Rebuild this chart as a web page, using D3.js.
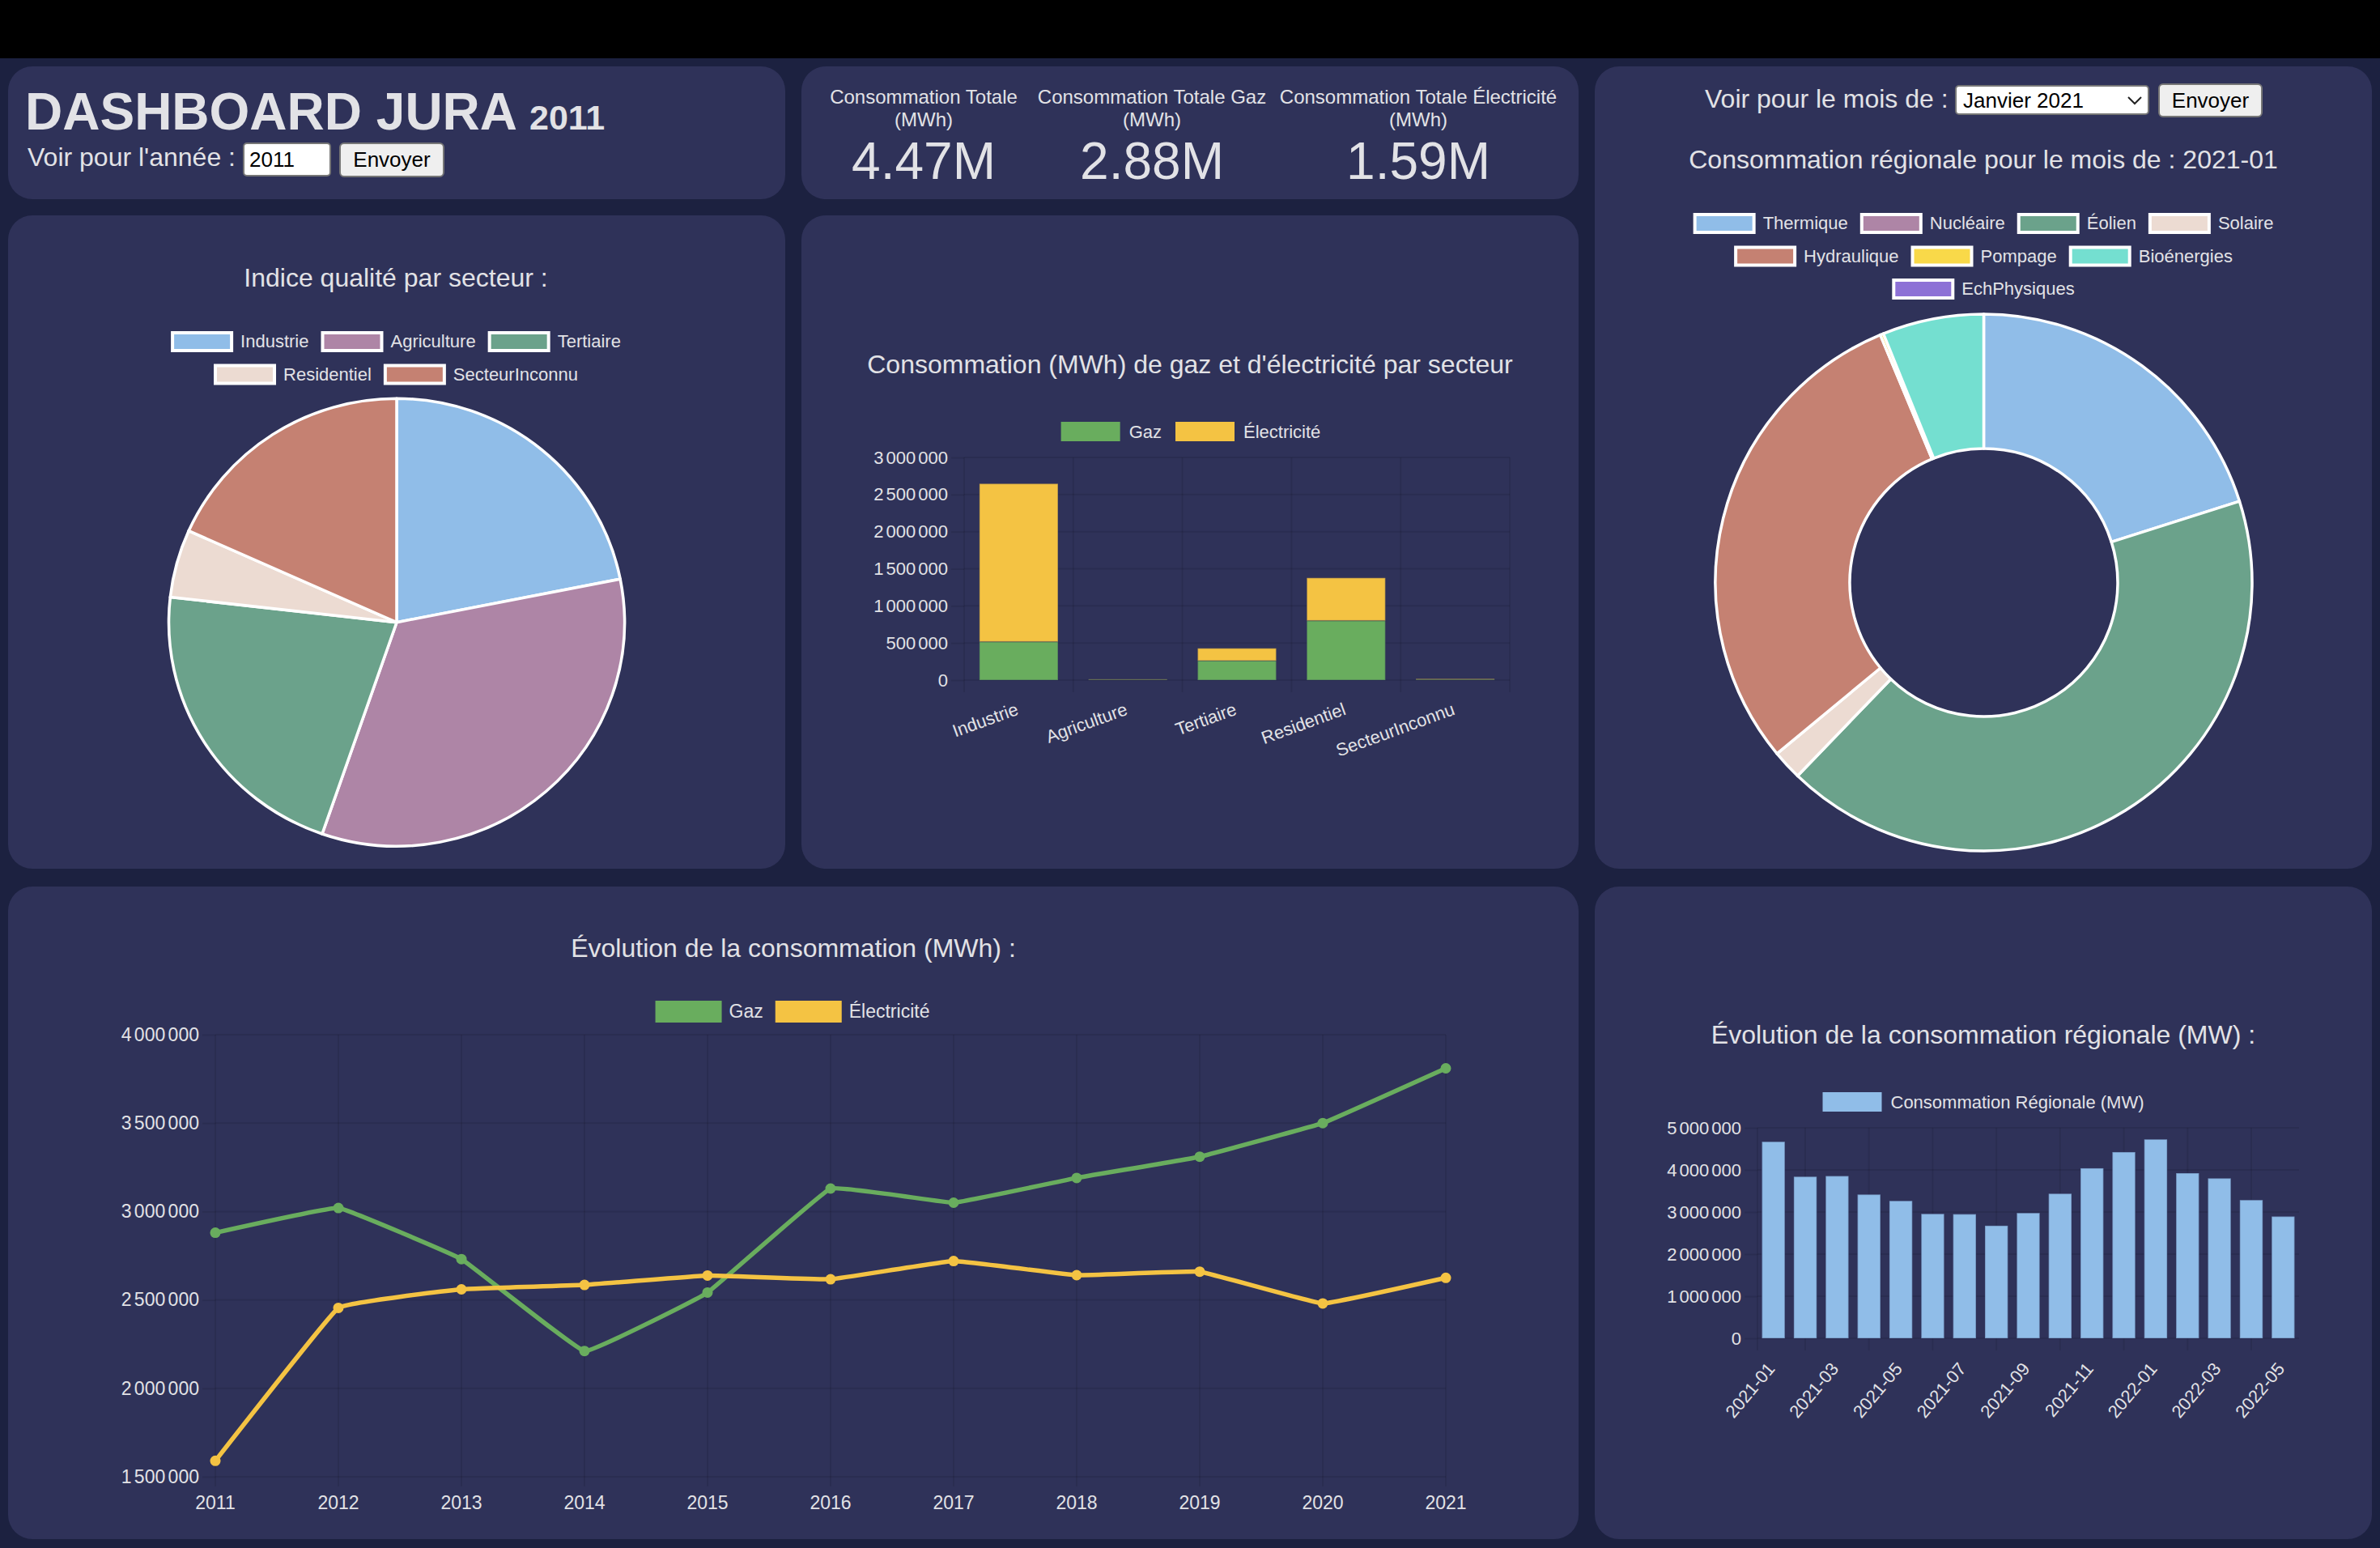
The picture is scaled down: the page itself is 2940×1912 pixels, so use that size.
<!DOCTYPE html>
<html lang="fr">
<head>
<meta charset="utf-8">
<title>Dashboard Jura</title>
<script src="https://cdn.jsdelivr.net/npm/d3@7"></script>
<style>
  html, body { margin: 0; padding: 0; background: #1c2140; }
  body { position: relative; width: 2940px; height: 1912px; overflow: hidden; font-family: "Liberation Sans", Arial, sans-serif; }
  svg { position: absolute; left: 0; top: 0; }
  svg text { font-family: "Liberation Sans", Arial, sans-serif; fill: #e2e2e6; }
  .ctl { position: absolute; box-sizing: border-box; margin: 0; font-family: "Liberation Sans", Arial, sans-serif; font-size: 26px; color: #000; border: 2px solid #767676; }
  button.ctl { background: #efefef; border-radius: 6px; padding: 0; }
  input.ctl { background: #fff; border-radius: 5px; padding: 0 6px; }
  select.ctl { background: #fff; border-radius: 5px; padding: 0 8px; appearance: none; -webkit-appearance: none;
    background-image: url("data:image/svg+xml,%3Csvg xmlns='http://www.w3.org/2000/svg' width='20' height='12'%3E%3Cpath d='M2 2l8 8 8-8' fill='none' stroke='%23222' stroke-width='2'/%3E%3C/svg%3E");
    background-repeat: no-repeat; background-position: right 6px center; }
</style>
</head>
<body>
<script>
// values
const kpiLabels = [["Consommation Totale", "(MWh)"], ["Consommation Totale Gaz", "(MWh)"], ["Consommation Totale Électricité", "(MWh)"]];
const kpiValues = ["4.47M", "2.88M", "1.59M"];

const sectors = ["Industrie", "Agriculture", "Tertiaire", "Residentiel", "SecteurInconnu"];
const qualityIndex = [21.9, 33.4, 21.5, 4.9, 18.3];
const sectorGaz = [517000, 8000, 261000, 801000, 9000];
const sectorElec = [2129000, 4000, 167000, 576000, 7000];

const energySources = ["Thermique", "Nucléaire", "Éolien", "Solaire", "Hydraulique", "Pompage", "Bioénergies", "EchPhysiques"];
const energyValues = [20.1, 0, 42.1, 1.8, 29.7, 0.2, 6.1, 0];

const years = ["2011", "2012", "2013", "2014", "2015", "2016", "2017", "2018", "2019", "2020", "2021"];
const gazByYear = [2880000, 3020000, 2731000, 2211000, 2542000, 3130000, 3050000, 3190000, 3310000, 3500000, 3810000];
const elecByYear = [1590000, 2455000, 2560000, 2585000, 2638000, 2617000, 2720000, 2640000, 2660000, 2480000, 2625000];

const months = ["2021-01", "2021-02", "2021-03", "2021-04", "2021-05", "2021-06", "2021-07", "2021-08", "2021-09", "2021-10", "2021-11", "2021-12", "2022-01", "2022-02", "2022-03", "2022-04", "2022-05"];
const regionalByMonth = [4670000, 3840000, 3855000, 3416000, 3265000, 2956000, 2949000, 2675000, 2977000, 3436000, 4040000, 4424000, 4726000, 3923000, 3800000, 3285000, 2894000];

const GREEN = "#69ad5e";
const YELLOW = "#f4c343";
const pieColors = ["#90bde8", "#ae85a6", "#6ba28b", "#ecdbd2", "#c58172", "#f9d949", "#74dfd0", "#8d71d6"];
const gridColor = "rgba(0,0,0,0.09)";
const barEdge = "rgba(47,50,89,0.3)";

// grouped with a plain space, tightened with word-spacing on the tick text
const fr = d3.formatLocale({ decimal: ",", thousands: " ", grouping: [3], currency: ["", " €"] });
const fmt = fr.format(",d");

const svg = d3.select("body").append("svg").attr("width", 2940).attr("height", 1912);

// top strip and cards
svg.append("rect").attr("width", 2940).attr("height", 72).attr("fill", "#000");
const cards = [
  [10, 82, 960, 164], [990, 82, 960, 164], [1970, 82, 960, 991],
  [10, 266, 960, 807], [990, 266, 960, 807],
  [10, 1095, 1940, 806], [1970, 1095, 960, 806]
];
svg.selectAll("rect.card").data(cards).enter().append("rect")
  .attr("class", "card")
  .attr("x", d => d[0]).attr("y", d => d[1])
  .attr("width", d => d[2]).attr("height", d => d[3])
  .attr("rx", 30).attr("fill", "#2f3259");

function label(x, y, txt, size, anchor, weight) {
  return svg.append("text").attr("x", x).attr("y", y)
    .attr("font-size", size + "px")
    .attr("text-anchor", anchor || "start")
    .attr("font-weight", weight || "normal")
    .text(txt);
}

// header
const head = label(31, 160, "DASHBOARD JURA", 64, "start", "bold");
head.append("tspan").attr("font-size", "43px").attr("dx", "3").text(" 2011");
label(34, 205, "Voir pour l'année :", 32);

// kpis
[1141, 1423, 1752].forEach((cx, i) => {
  label(cx, 128, kpiLabels[i][0], 24, "middle");
  label(cx, 156, kpiLabels[i][1], 24, "middle");
  label(cx, 221, kpiValues[i], 64, "middle");
});

// form controls
function control(tag, x, y, w, h) {
  return d3.select("body").append(tag).attr("class", "ctl")
    .style("left", x + "px").style("top", y + "px")
    .style("width", w + "px").style("height", h + "px");
}
control("input", 300, 176, 109, 42).attr("type", "text").attr("value", "2011");
control("button", 419, 176, 130, 43).text("Envoyer");
label(2106, 133, "Voir pour le mois de :", 32);
control("select", 2415, 105, 240, 37).append("option").text("Janvier 2021");
control("button", 2666, 103, 129, 42).text("Envoyer");

// legend: rows of [name, colour], each row centred on cx
function legend(cx, y, rows, style) {
  const { boxW, boxH, offset, gap, outlined, textY, size } = style;
  rows.forEach((row, r) => {
    const g = svg.append("g").attr("transform", `translate(0,${y + r * 40.5})`);
    const items = row.map(d => {
      const it = g.append("g");
      it.append("rect").attr("x", outlined ? 2 : 0).attr("y", outlined ? 2 : 0)
        .attr("width", outlined ? boxW - 4 : boxW).attr("height", outlined ? boxH - 4 : boxH)
        .attr("fill", d[1])
        .attr("stroke", outlined ? "#fff" : "none").attr("stroke-width", 4);
      const t = it.append("text").attr("x", offset).attr("y", textY).attr("font-size", size + "px").text(d[0]);
      return { it, w: offset + t.node().getComputedTextLength() };
    });
    let x = cx - (d3.sum(items, d => d.w) + gap * (items.length - 1)) / 2;
    items.forEach(d => {
      d.it.attr("transform", `translate(${x},0)`);
      x += d.w + gap;
    });
  });
}
const outlinedLegend = { boxW: 77, boxH: 26, offset: 86, gap: 15, outlined: true, textY: 20, size: 22 };
const barLegend = { boxW: 73, boxH: 24, offset: 84, gap: 17, outlined: false, textY: 20, size: 22 };
const lineLegend = { boxW: 82, boxH: 27, offset: 91, gap: 15, outlined: false, textY: 21, size: 23 };

// horizontal grid + y labels
function yAxis(x0, x1, y, ticks, size) {
  const g = svg.append("g");
  g.append("g").attr("transform", `translate(${x0},0)`)
    .call(d3.axisLeft(y).tickValues(ticks).tickFormat(fmt).tickSize(16).tickPadding(4))
    .call(a => a.select(".domain").remove())
    .call(a => a.selectAll("line").attr("stroke", gridColor).attr("stroke-width", 2))
    .call(a => a.selectAll("text").attr("font-size", size + "px").attr("font-family", null).attr("word-spacing", "-3px"));
  g.selectAll("line.grid").data(ticks).enter().append("line")
    .attr("class", "grid")
    .attr("x1", x0).attr("x2", x1)
    .attr("y1", d => y(d)).attr("y2", d => y(d))
    .attr("stroke", gridColor).attr("stroke-width", 2);
}

function vGrid(xs, top, bottom) {
  svg.append("g").selectAll("line").data(xs).enter().append("line")
    .attr("x1", d => d).attr("x2", d => d)
    .attr("y1", top).attr("y2", bottom)
    .attr("stroke", gridColor).attr("stroke-width", 2);
}

// ---- pie: indice qualite
label(489, 354, "Indice qualité par secteur :", 32, "middle");
legend(489, 409, [
  sectors.slice(0, 3).map((s, i) => [s, pieColors[i]]),
  sectors.slice(3).map((s, i) => [s, pieColors[i + 3]])
], outlinedLegend);

function drawPie(cx, cy, r, inner, values, xStretch) {
  const arc = d3.arc().innerRadius(inner).outerRadius(r);
  const pie = d3.pie().sort(null)(values);
  svg.append("g").attr("transform", `translate(${cx},${cy}) scale(${xStretch},1)`)
    .selectAll("path").data(pie).enter().append("path")
    .attr("d", arc)
    .attr("fill", (d, i) => pieColors[i])
    .attr("stroke", d => d.value > 0 ? "#fff" : "none")
    .attr("stroke-width", 3.5)
    .attr("stroke-linejoin", "round");
}
// the pie is slightly wider than tall in the reference
drawPie(490, 768.7, 276.5, 0, qualityIndex, 1.018);

// ---- stacked bars by sector
label(1470, 461, "Consommation (MWh) de gaz et d'électricité par secteur", 32, "middle");
legend(1471, 521, [[["Gaz", GREEN], ["Électricité", YELLOW]]], barLegend);

const secX = d3.scaleBand().domain(sectors).range([1191, 1865]).paddingInner(0.28).paddingOuter(0.14);
const secY = d3.scaleLinear().domain([0, 3000000]).range([840, 565]);
vGrid(sectors.map((d, i) => 1191 + i * secX.step()).concat([1865]), 565, 855);
yAxis(1191, 1865, secY, [0, 500000, 1000000, 1500000, 2000000, 2500000, 3000000], 22);

const secRows = sectors.map((s, i) => ({ s, gaz: sectorGaz[i], elec: sectorElec[i] }));
const stacked = d3.stack().keys(["gaz", "elec"])(secRows);
svg.append("g").selectAll("g").data(stacked).enter().append("g")
  .attr("fill", (d, i) => i === 0 ? GREEN : YELLOW)
  .selectAll("rect").data(d => d).enter().append("rect")
  .attr("x", d => secX(d.data.s))
  .attr("y", d => secY(d[1]))
  .attr("width", secX.bandwidth())
  .attr("height", d => secY(d[0]) - secY(d[1]))
  .attr("stroke", barEdge).attr("stroke-width", 1.5);

function rotatedLabels(x, names, y, angle, dx) {
  svg.append("g").selectAll("text").data(names).enter().append("text")
    .attr("transform", d => `translate(${x(d) + x.bandwidth() / 2 + dx},${y}) rotate(${angle})`)
    .attr("text-anchor", "end")
    .attr("font-size", "22px")
    .text(d => d);
}
rotatedLabels(secX, sectors, 882, -20, 1);

// ---- doughnut
label(2450, 208, "Consommation régionale pour le mois de : 2021-01", 32, "middle");
legend(2450, 263, [
  energySources.slice(0, 4).map((s, i) => [s, pieColors[i]]),
  energySources.slice(4, 7).map((s, i) => [s, pieColors[i + 4]]),
  energySources.slice(7).map((s, i) => [s, pieColors[i + 7]])
], outlinedLegend);
drawPie(2450.5, 719.5, 331.5, 165.5, energyValues, 1);

// ---- line chart
label(980, 1182, "Évolution de la consommation (MWh) :", 32, "middle");
legend(979, 1236, [[["Gaz", GREEN], ["Électricité", YELLOW]]], lineLegend);

const yearX = d3.scalePoint().domain(years).range([266, 1786]);
const yearY = d3.scaleLinear().domain([1500000, 4000000]).range([1824, 1278]);
vGrid(years.map(d => yearX(d)), 1278, 1836);
yAxis(266, 1786, yearY, [1500000, 2000000, 2500000, 3000000, 3500000, 4000000], 23);

svg.append("g").selectAll("text").data(years).enter().append("text")
  .attr("x", d => yearX(d)).attr("y", 1864)
  .attr("text-anchor", "middle").attr("font-size", "23px")
  .text(d => d);

const line = d3.line()
  .x((d, i) => yearX(years[i]))
  .y(d => yearY(d))
  .curve(d3.curveCardinal.tension(0.8));
[[gazByYear, GREEN], [elecByYear, YELLOW]].forEach(([vals, col]) => {
  svg.append("path").attr("d", line(vals))
    .attr("fill", "none").attr("stroke", col).attr("stroke-width", 5.5);
  svg.append("g").selectAll("circle").data(vals).enter().append("circle")
    .attr("cx", (d, i) => yearX(years[i]))
    .attr("cy", d => yearY(d))
    .attr("r", 6.5).attr("fill", col);
});

// ---- regional bars
label(2450, 1289, "Évolution de la consommation régionale (MW) :", 32, "middle");
legend(2450, 1349, [[["Consommation Régionale (MW)", pieColors[0]]]], barLegend);

const monthX = d3.scaleBand().domain(months).range([2171, 2840]).paddingInner(0.28).paddingOuter(0.14);
const monthY = d3.scaleLinear().domain([0, 5000000]).range([1653, 1393]);
const shownMonths = months.filter((d, i) => i % 2 === 0);
vGrid([2171].concat(months.filter((d, i) => i % 2 === 1).map(d => monthX(d) + monthX.bandwidth() / 2)), 1393, 1668);
yAxis(2171, 2840, monthY, [0, 1000000, 2000000, 3000000, 4000000, 5000000], 22);

svg.append("g").selectAll("rect").data(regionalByMonth).enter().append("rect")
  .attr("x", (d, i) => monthX(months[i]))
  .attr("y", d => monthY(d))
  .attr("width", monthX.bandwidth())
  .attr("height", d => monthY(0) - monthY(d))
  .attr("fill", pieColors[0])
  .attr("stroke", barEdge).attr("stroke-width", 1.5);
rotatedLabels(monthX, shownMonths, 1691, -50, 3);
</script>
</body>
</html>
